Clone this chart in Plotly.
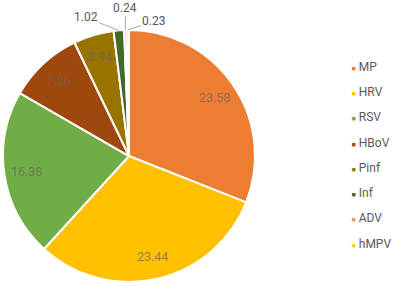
import math
import plotly.graph_objects as go

labels = ["MP", "HRV", "RSV", "HBoV", "Pinf", "Inf", "ADV", "hMPV"]
values = [23.58, 23.44, 16.38, 7.26, 3.94, 1.02, 0.24, 0.23]
colors = ["#ED7D31", "#FFC000", "#70AD47", "#9E480E", "#997300", "#43682B", "#F1975A", "#FFCD33"]
# label placement style: inside slices, or outside with a leader (pixel offsets of text)
outside_offsets = {"Inf": (-33, -13), "ADV": (0, -22), "hMPV": (26, -9)}

W, H = 401, 286
dom_x = [0.0075, 0.636]
dom_y = [0.014, 0.895]
R_px = min((dom_x[1] - dom_x[0]) * W, (dom_y[1] - dom_y[0]) * H) / 2
cx = (dom_x[0] + dom_x[1]) / 2
cy = (dom_y[0] + dom_y[1]) / 2

fig = go.Figure()
fig.add_trace(go.Pie(
    labels=labels, values=values, sort=False, direction="clockwise", rotation=0,
    marker=dict(colors=colors, line=dict(color="white", width=2)),
    textinfo="none", domain=dict(x=dom_x, y=dom_y),
    showlegend=False, hoverinfo="label+value",
))

total = sum(values)
cum = 0.0
annotations = []
for lab, v in zip(labels, values):
    mid = (cum + v / 2) / total * 2 * math.pi
    cum += v
    if lab in outside_offsets:
        r = R_px
        px = cx + r * math.sin(mid) / W
        py = cy + r * math.cos(mid) / H
        ax, ay = outside_offsets[lab]
        annotations.append(dict(
            x=px, y=py, xref="paper", yref="paper", text=f"{v:.2f}",
            showarrow=True, arrowhead=0, arrowwidth=1, arrowcolor="#A6A6A6",
            ax=ax, ay=ay, standoff=0,
            font=dict(family="Roboto", size=12, color="#595959"),
        ))
    else:
        r = 0.82 * R_px
        px = cx + r * math.sin(mid) / W
        py = cy + r * math.cos(mid) / H
        annotations.append(dict(
            x=px, y=py, xref="paper", yref="paper", text=f"{v:.2f}",
            showarrow=False, xanchor="center", yanchor="middle",
            font=dict(family="Roboto", size=12.5, color="rgba(100,100,100,0.7)"),
        ))

for lab, col in zip(labels, colors):
    fig.add_trace(go.Scatter(
        x=[None], y=[None], mode="markers",
        name=f"<span style='color:{col};font-size:7px'>■</span> {lab}",
        marker=dict(symbol="square", size=1, color="rgba(0,0,0,0)"),
        legendgroup=lab, showlegend=True,
    ))

fig.update_layout(
    width=W, height=H, margin=dict(l=0, r=0, t=0, b=0, autoexpand=False),
    paper_bgcolor="white", plot_bgcolor="white",
    xaxis=dict(visible=False), yaxis=dict(visible=False),
    annotations=annotations,
    legend=dict(x=0.777, y=0.82, xanchor="left", yanchor="top",
                font=dict(family="Roboto", size=12, color="#595959"),
                tracegroupgap=6.3, itemwidth=30, bgcolor="rgba(0,0,0,0)"),
)
fig.write_html("out.html", config={"displayModeBar": False},
               post_script="document.body.style.margin='0';")
